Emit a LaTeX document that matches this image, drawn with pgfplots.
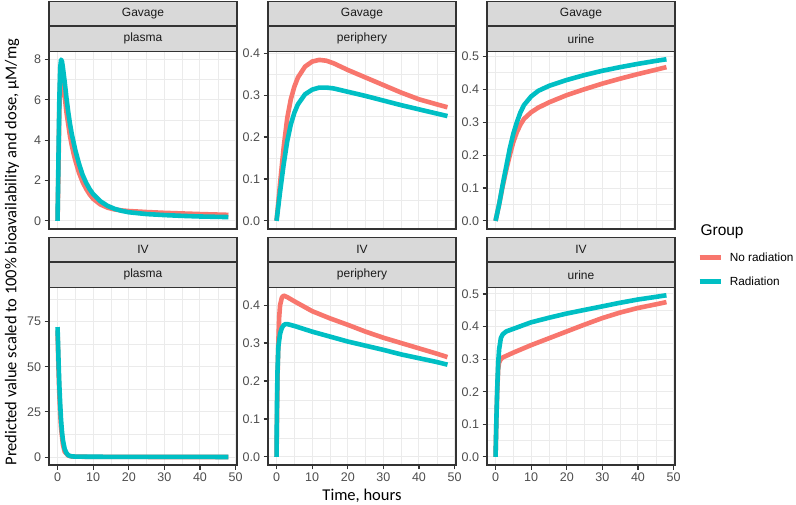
\documentclass[border=0pt]{standalone}
\usepackage{pgfplots}
\pgfplotsset{compat=1.18}
\usepackage{fontspec}
\setmainfont{Liberation Sans}
\newfontfamily\calibri{Carlito}
\definecolor{nored}{HTML}{F8766D}
\definecolor{radcyan}{HTML}{00BFC4}
\definecolor{gridc}{HTML}{EBEBEB}
\definecolor{grey20}{HTML}{333333}
\definecolor{grey30}{HTML}{4D4D4D}
\definecolor{grey10}{HTML}{1A1A1A}
\definecolor{stripc}{HTML}{D9D9D9}
\pgfplotsset{
  gg/.style={
    scale only axis, width=188pt, height=177.5pt, anchor=north west,
    xmin=-2.4, xmax=50.4,
    xtick={0,10,20,30,40,50}, minor xtick={5,15,25,35,45},
    grid=both,
    major grid style={draw=gridc, line width=1.0pt},
    minor grid style={draw=gridc, line width=0.5pt},
    axis line style={draw=grey20, line width=1.1pt},
    tick align=outside, major tick length=4.5pt, minor tick length=0pt,
    xtick pos=left, ytick pos=left,
    every tick/.style={draw=grey20, line width=1.1pt},
    tick label style={font=\fontsize{12.5}{14}\selectfont, text=grey30},
    /pgf/number format/assume math mode=true,
    every axis plot/.append style={line width=4.6pt, line join=round, no markers},
  },
  toprow/.style={xticklabels={}, xtick style={draw=none}},
  dec1/.style={yticklabel style={/pgf/number format/.cd, fixed, fixed zerofill, precision=1}},
}
\newcommand{\strips}[4]{%
  \draw[fill=stripc, draw=grey20, line width=1.1pt] (#1pt,-#2pt) rectangle ({#1pt+188pt},{-#2pt-24.5pt});
  \draw[fill=stripc, draw=grey20, line width=1.1pt] (#1pt,{-#2pt-24.5pt}) rectangle ({#1pt+188pt},{-#2pt-50pt});
  \node[text=grey10, font=\fontsize{12}{14}\selectfont] at ({#1pt+94pt},{-#2pt-12.25pt}) {#3};
  \node[text=grey10, font=\fontsize{12}{14}\selectfont] at ({#1pt+94pt},{-#2pt-37.25pt}) {#4};
}
\begin{document}
\begin{tikzpicture}
\useasboundingbox (0,0) rectangle (796pt,-505pt);
% ---------- Row 1: Gavage ----------
\begin{axis}[gg, toprow, at={(49pt,-51.5pt)}, ymin=-0.4, ymax=8.4,
  ytick={0,2,4,6,8}, minor ytick={1,3,5,7}]
\addplot[nored] coordinates {(0,0) (0.25,2.5) (0.5,5.5) (0.75,6.9) (1,7.3) (1.25,7.2) (1.5,6.9) (2,6.2) (2.5,5.4) (3,4.8) (3.5,4.2) (4,3.75) (4.5,3.35) (5,3.0) (6,2.4) (7,1.95) (8,1.6) (9,1.32) (10,1.1) (12,0.82) (14,0.66) (16,0.57) (18,0.52) (20,0.49) (25,0.44) (30,0.4) (35,0.37) (40,0.34) (48,0.3)};
\addplot[radcyan] coordinates {(0,0) (0.25,3) (0.5,6) (0.75,7.6) (1,8) (1.25,7.9) (1.5,7.6) (2,6.9) (2.5,6.1) (3,5.4) (3.5,4.8) (4,4.3) (4.5,3.9) (5,3.5) (6,2.85) (7,2.3) (8,1.9) (9,1.58) (10,1.33) (12,0.98) (14,0.75) (16,0.6) (18,0.5) (20,0.43) (25,0.34) (30,0.29) (35,0.25) (40,0.22) (48,0.19)};
\end{axis}
\begin{axis}[gg, toprow, dec1, at={(268pt,-51.5pt)}, ymin=-0.0193, ymax=0.404,
  ytick={0,0.1,0.2,0.3,0.4}, minor ytick={0.05,0.15,0.25,0.35}]
\addplot[nored] coordinates {(0,0) (1,0.09) (2,0.175) (3,0.245) (4,0.29) (5,0.32) (6,0.342) (8,0.368) (10,0.38) (12,0.384) (14,0.382) (16,0.376) (20,0.36) (25,0.342) (30,0.324) (35,0.306) (40,0.29) (45,0.278) (48,0.271)};
\addplot[radcyan] coordinates {(0,0) (1,0.07) (2,0.135) (3,0.19) (4,0.23) (5,0.258) (6,0.278) (8,0.302) (10,0.313) (12,0.318) (14,0.318) (16,0.316) (20,0.308) (25,0.298) (30,0.287) (35,0.276) (40,0.266) (45,0.256) (48,0.25)};
\end{axis}
\begin{axis}[gg, toprow, dec1, at={(487pt,-51.5pt)}, ymin=-0.0245, ymax=0.5145,
  ytick={0,0.1,0.2,0.3,0.4,0.5}, minor ytick={0.05,0.15,0.25,0.35,0.45}]
\addplot[nored] coordinates {(0,0) (1,0.05) (2,0.105) (3,0.155) (4,0.2) (5,0.24) (6,0.27) (7,0.293) (8,0.31) (10,0.33) (12,0.344) (15,0.36) (20,0.382) (25,0.4) (30,0.417) (35,0.432) (40,0.446) (45,0.459) (48,0.467)};
\addplot[radcyan] coordinates {(0,0) (1,0.05) (2,0.11) (3,0.165) (4,0.22) (5,0.265) (6,0.3) (7,0.33) (8,0.352) (10,0.378) (12,0.395) (15,0.41) (20,0.428) (25,0.443) (30,0.456) (35,0.467) (40,0.477) (45,0.486) (48,0.491)};
\end{axis}
% ---------- Row 2: IV ----------
\begin{axis}[gg, at={(49pt,-287.5pt)}, ymin=-4.4, ymax=93.9,
  ytick={0,25,50,75}, minor ytick={12.5,37.5,62.5,87.5}]
\addplot[nored] coordinates {(0,70) (0.25,50) (0.5,35) (0.75,24) (1,16) (1.5,7) (2,3) (3,0.8) (4,0.3) (10,0.08) (48,0.03)};
\addplot[radcyan] coordinates {(0,72) (0.25,55) (0.5,40) (0.75,29) (1,20) (1.25,14) (1.5,9.5) (2,4.5) (2.5,2.2) (3,1.1) (3.5,0.6) (4,0.4) (5,0.25) (10,0.15) (48,0.05)};
\end{axis}
\begin{axis}[gg, dec1, at={(268pt,-287.5pt)}, ymin=-0.0213, ymax=0.4463,
  ytick={0,0.1,0.2,0.3,0.4}, minor ytick={0.05,0.15,0.25,0.35}]
\addplot[nored] coordinates {(0,0) (0.25,0.2) (0.5,0.3) (0.75,0.37) (1,0.4) (1.5,0.42) (2,0.425) (3,0.421) (5,0.41) (10,0.384) (15,0.365) (20,0.348) (25,0.33) (30,0.314) (35,0.3) (40,0.286) (45,0.272) (48,0.263)};
\addplot[radcyan] coordinates {(0,0) (0.1,0.12) (0.25,0.22) (0.5,0.29) (1,0.325) (1.5,0.34) (2,0.347) (2.5,0.35) (3,0.35) (5,0.345) (10,0.33) (15,0.317) (20,0.304) (25,0.293) (30,0.282) (35,0.27) (40,0.26) (45,0.25) (48,0.243)};
\end{axis}
\begin{axis}[gg, dec1, at={(487pt,-287.5pt)}, ymin=-0.0248, ymax=0.5198,
  ytick={0,0.1,0.2,0.3,0.4,0.5}, minor ytick={0.05,0.15,0.25,0.35,0.45},
  legend style={at={(rel axis cs:1.117,1.100)}, anchor=west, draw=none, fill=none,
    inner sep=0pt, row sep=14pt, font=\fontsize{11.8}{14}\selectfont,
    nodes={inner sep=0pt}, column sep=7pt},
  legend cell align=left,
  legend image code/.code={\draw[#1, line width=4.6pt] (0pt,0pt) -- (21pt,0pt);}]
\addplot[nored] coordinates {(0,0) (0.25,0.12) (0.5,0.21) (0.75,0.27) (1,0.29) (1.5,0.3) (2,0.305) (3,0.31) (5,0.32) (10,0.343) (15,0.364) (20,0.385) (25,0.406) (30,0.426) (35,0.443) (40,0.457) (45,0.468) (48,0.475)};
\addlegendentry{No radiation}
\addplot[radcyan] coordinates {(0,0) (0.25,0.12) (0.5,0.22) (0.75,0.29) (1,0.33) (1.5,0.365) (2,0.376) (3,0.385) (5,0.393) (10,0.413) (15,0.427) (20,0.44) (25,0.451) (30,0.462) (35,0.473) (40,0.483) (45,0.491) (48,0.496)};
\addlegendentry{Radiation}
\end{axis}
% ---------- strips ----------
\strips{49}{1.5}{Gavage}{plasma}
\strips{268}{1.5}{Gavage}{periphery}
\strips{487}{1.5}{Gavage}{urine}
\strips{49}{237.5}{IV}{plasma}
\strips{268}{237.5}{IV}{periphery}
\strips{487}{237.5}{IV}{urine}
% ---------- titles ----------
\node[anchor=west, font=\fontsize{15.5}{18}\selectfont] at (697pt,-232pt) {Group};
\node[rotate=90, font=\calibri\fontsize{16.5}{19}\selectfont] at (12pt,-252pt) {Predicted value scaled to 100\% bioavailability and dose, μM/mg};
\node[font=\calibri\fontsize{16.5}{19}\selectfont] at (362pt,-496pt) {Time, hours};
\end{tikzpicture}
\end{document}
